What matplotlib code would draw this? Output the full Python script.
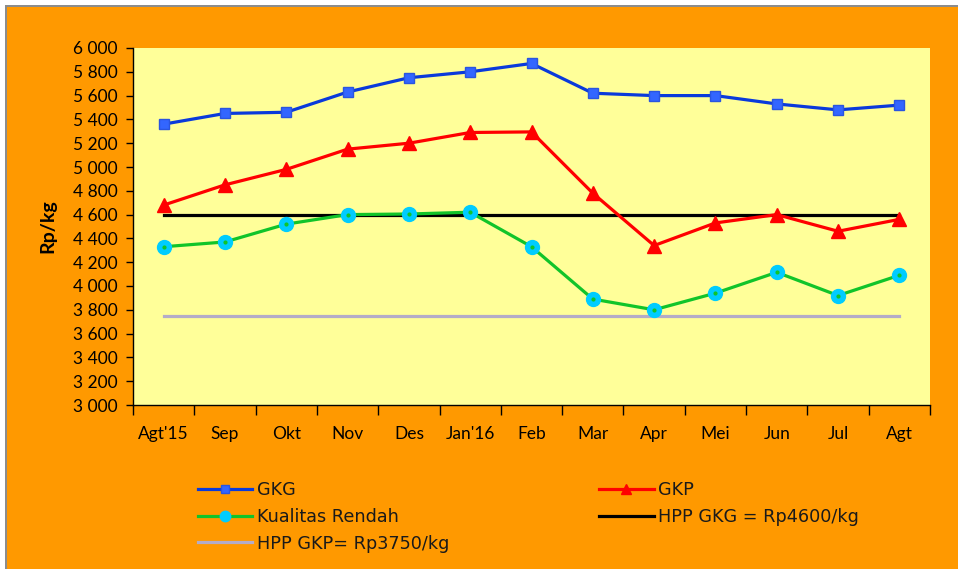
import matplotlib
matplotlib.use("Agg")
import matplotlib.pyplot as plt
from matplotlib.patches import Rectangle
from matplotlib.ticker import FuncFormatter, FixedLocator
import numpy as np

categories = ["Agt'15", "Sep", "Okt", "Nov", "Des", "Jan'16", "Feb", "Mar", "Apr", "Mei", "Jun", "Jul", "Agt"]
gkg = [5360, 5450, 5460, 5630, 5750, 5800, 5870, 5620, 5600, 5600, 5530, 5480, 5520]
gkp = [4680, 4850, 4980, 5150, 5200, 5290, 5295, 4780, 4340, 4530, 4600, 4460, 4560]
kualitas_rendah = [4330, 4370, 4520, 4600, 4605, 4620, 4330, 3890, 3800, 3940, 4115, 3920, 4090]
hpp_gkg = 4600
hpp_gkp = 3750

plt.rcParams['font.family'] = ['Lato', 'DejaVu Sans']

fig = plt.figure(figsize=(9.58, 5.69), dpi=100)
fig.patch.set_facecolor('white')
# outer gray frame and orange background
fig.patches.append(Rectangle((5/958, 0), 1, 1 - 5/569, transform=fig.transFigure,
                             facecolor='#8C8C8C', edgecolor='none', zorder=-2))
fig.patches.append(Rectangle((7/958, 0), 1, 1 - 7/569, transform=fig.transFigure,
                             facecolor='#FF9900', edgecolor='none', zorder=-1))

ax = fig.add_axes([133/958, 1 - 405/569, (930 - 133)/958, (405 - 48)/569])
ax.set_facecolor('#FFFF99')

x = np.arange(len(categories))
ax.plot(x, [hpp_gkp] * len(x), color='#B4ACC8', lw=2.3, label='HPP GKP= Rp3750/kg', zorder=2)
ax.plot(x, [hpp_gkg] * len(x), color='black', lw=2.3, label='HPP GKG = Rp4600/kg', zorder=2)
l_kr, = ax.plot(x, kualitas_rendah, color='#11C42A', lw=2.3, marker='o', ms=10,
                mfc='#00CCFF', mec='#00CCFF', label='Kualitas Rendah', zorder=3)
ax.plot(x, kualitas_rendah, ls='none', marker='o', ms=2, color='#11C42A', zorder=4)
l_gkp, = ax.plot(x, gkp, color='#FF0000', lw=2.3, marker='^', ms=9.5,
                 mfc='#FF0000', mec='#FF0000', label='GKP', zorder=3)
l_gkg, = ax.plot(x, gkg, color='#0A3ADB', lw=2.3, marker='s', ms=7.5,
                 mfc='#3366FF', mec='#2A55E0', label='GKG', zorder=3)

ax.set_xlim(-0.5, len(categories) - 0.5)
ax.set_ylim(3000, 6000)
ax.yaxis.set_major_locator(FixedLocator(np.arange(3000, 6001, 200)))
ax.yaxis.set_major_formatter(FuncFormatter(lambda v, p: f"{int(v):,}".replace(",", " ")))

ax.set_xticks(np.arange(-0.5, len(categories), 1.0))
ax.set_xticklabels([])
ax.set_xticks(x, minor=True)
ax.set_xticklabels(categories, minor=True, fontsize=12.5)
ax.tick_params(axis='x', which='major', direction='out', length=7, width=1, color='black')
ax.tick_params(axis='x', which='minor', length=0, pad=15)
ax.tick_params(axis='y', direction='out', length=5, width=1, color='black', labelsize=12.5, pad=6)

for s in ['top', 'right']:
    ax.spines[s].set_visible(False)
for s in ['left', 'bottom']:
    ax.spines[s].set_color('black')
    ax.spines[s].set_linewidth(1)

ax.set_ylabel('Rp/kg', fontsize=14, fontweight='bold', labelpad=12)

handles = [l_gkg, l_kr,
           ax.lines[0], l_gkp, ax.lines[1]]
labels = ['GKG', 'Kualitas Rendah', 'HPP GKP= Rp3750/kg', 'GKP', 'HPP GKG = Rp4600/kg']
leg = fig.legend(handles, labels, ncol=2, loc='upper left',
                 bbox_to_anchor=(198/958, 1 - 481/569), frameon=False,
                 prop={'family': 'DejaVu Sans', 'size': 12.7},
                 handlelength=3.07, handletextpad=0.28, markerscale=0.75,
                 columnspacing=8.5, labelspacing=0.5, borderaxespad=0, borderpad=0)
for t in leg.get_texts():
    t.set_color('#1a1a1a')

fig.savefig('out.png', dpi=100, facecolor=fig.get_facecolor())
